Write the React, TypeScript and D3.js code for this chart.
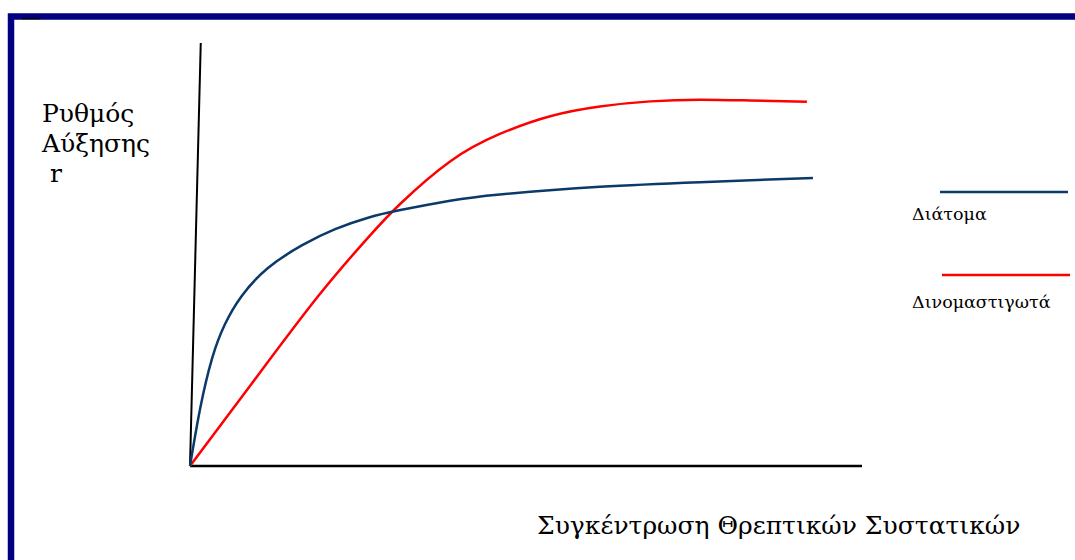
import React from 'react';
import * as d3 from 'd3';

// nutrient concentration (arbitrary units) vs growth rate r
const diatomX = [0, 0.15, 0.33, 0.52, 0.77, 1.16, 1.67, 2.16, 2.65, 3.13, 3.87, 4.61, 6.1, 7.59, 9.27];
const diatomY = [0, 1.35, 2.55, 3.35, 4.02, 4.68, 5.22, 5.6, 5.87, 6.05, 6.27, 6.42, 6.6, 6.71, 6.81];

const dinoX = [0, 0.92, 1.9, 2.65, 3.13, 3.87, 4.61, 5.36, 6.1, 6.85, 7.59, 8.33, 9.18];
const dinoY = [0, 1.95, 4.0, 5.4, 6.2, 7.2, 7.85, 8.27, 8.5, 8.62, 8.66, 8.64, 8.61];

const legendLabels = ['Διάτομα', 'Δινομαστιγωτά'];
const legendColors = ['#0b3a6a', '#ff0000'];
const yTitle = ['Ρυθμός', 'Αύξησης', ' r'];
const xTitle = 'Συγκέντρωση Θρεπτικών Συστατικών';

const W = 1075;
const H = 560;
// Liberation Serif has no Greek here, DejaVu Serif does
const serif = '"DejaVu Serif", serif';

export default function App() {
  const x = d3.scaleLinear().domain([0, 10]).range([190, 862]);
  const y = d3.scaleLinear().domain([0, 10]).range([466, 43]);

  const line = d3.line<[number, number]>()
    .x(d => x(d[0]))
    .y(d => y(d[1]))
    .curve(d3.curveNatural);

  const diatom = d3.zip(diatomX, diatomY) as [number, number][];
  const dino = d3.zip(dinoX, dinoY) as [number, number][];

  return (
    <svg width={W} height={H} style={{ position: 'absolute', left: 0, top: 0, background: '#fff' }}>
      {/* frame */}
      <path d={`M11,${H} L11,16.5 L${W},16.5`} fill="none" stroke="#000080" strokeWidth={6.5} />
      <line x1={22} x2={40} y1={18.5} y2={18.5} stroke="#000" strokeWidth={1.5} />

      {/* axes */}
      <line x1={x(0)} y1={y(0)} x2={x(0.16)} y2={y(10)} stroke="#000" strokeWidth={2} />
      <line x1={x(0)} y1={y(0)} x2={x(10)} y2={y(0)} stroke="#000" strokeWidth={2.5} />

      {/* curves */}
      <path d={line(dino) || ''} fill="none" stroke={legendColors[1]} strokeWidth={2.5} />
      <path d={line(diatom) || ''} fill="none" stroke={legendColors[0]} strokeWidth={2.5} />

      {/* y title */}
      {yTitle.map((t, i) => (
        <text key={t} x={42} y={122 + i * 30} fontFamily={serif} fontSize={25} fill="#000"
          style={{ whiteSpace: 'pre' }}>{t}</text>
      ))}

      {/* x title */}
      <text x={537} y={534} fontFamily={serif} fontSize={25} fill="#000">{xTitle}</text>

      {/* legend */}
      {legendLabels.map((t, i) => (
        <g key={t} transform={`translate(0, ${i * 83})`}>
          <line x1={940 + i * 2} x2={1068 + i * 2} y1={192} y2={192} stroke={legendColors[i]} strokeWidth={2.5} />
          <text x={912} y={220 + i * 5} fontFamily={serif} fontSize={17.5} fill="#000">{t}</text>
        </g>
      ))}
    </svg>
  );
}
